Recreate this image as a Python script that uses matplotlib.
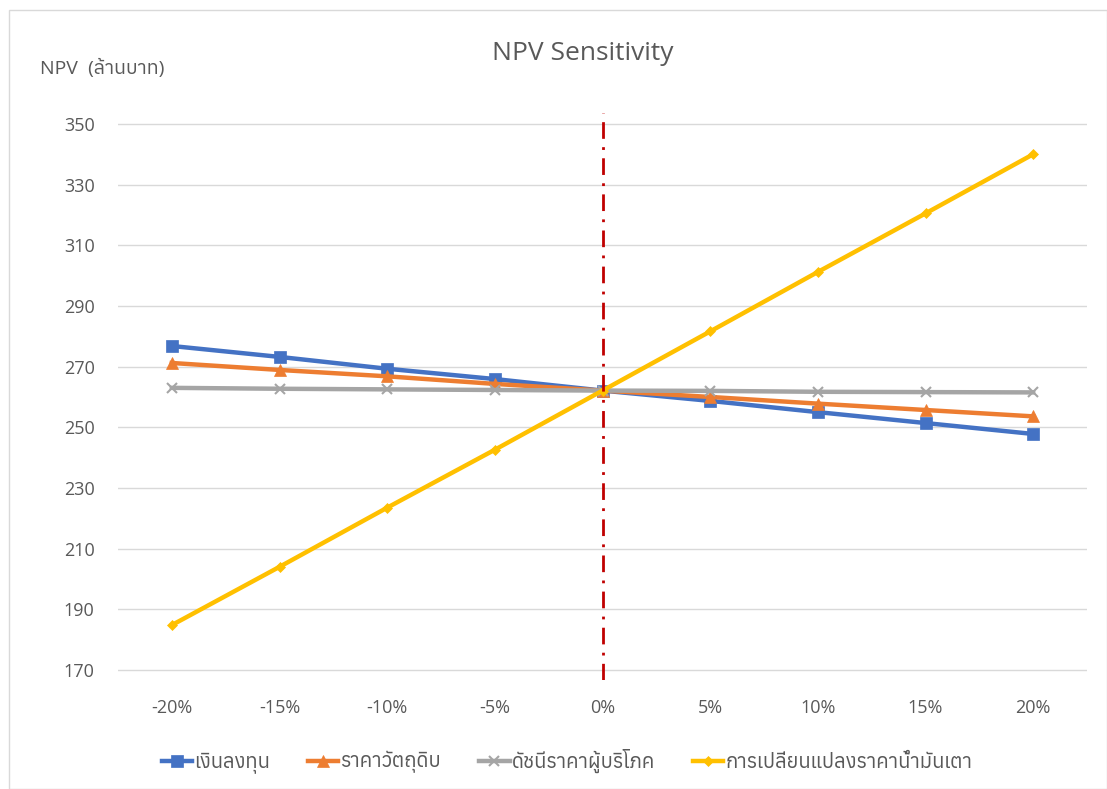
import matplotlib
matplotlib.use("Agg")
import matplotlib.pyplot as plt
from matplotlib import font_manager
from matplotlib.ft2font import FT2Font
from matplotlib.patches import Rectangle

CHANGES = ["-20%", "-15%", "-10%", "-5%", "0%", "5%", "10%", "15%", "20%"]
INVESTMENT = [276.8, 273.2, 269.3, 265.9, 262.1, 258.7, 255.0, 251.4, 247.8]
RAW_MATERIAL = [271.2, 268.9, 266.8, 264.3, 262.1, 260.0, 257.8, 255.7, 253.6]
CPI = [263.0, 262.7, 262.5, 262.3, 262.1, 262.0, 261.7, 261.6, 261.5]
FUEL_PRICE = [184.8, 204.0, 223.5, 242.6, 262.1, 281.6, 301.2, 320.5, 340.0]

SERIES = [
    ("เงินลงทุน", INVESTMENT, "#4472C4", "s", 8),
    ("ราคาวัตถุดิบ", RAW_MATERIAL, "#ED7D31", "^", 8),
    ("ดัชนีราคาผู้บริโภค", CPI, "#A5A5A5", "x", 7),
    ("การเปลี่ยนแปลงราคาน้ำมันเตา", FUEL_PRICE, "#FFC000", "D", 5),
]

TEXT_COLOR = "#595959"


def find_thai_font():
    found = []
    for f in font_manager.fontManager.ttflist:
        try:
            cmap = FT2Font(f.fname).get_charmap()
        except Exception:
            continue
        if 0x0E01 in cmap and 0x0E19 in cmap:
            found.append(f.name)
    return found


thai = find_thai_font()
families = (["Open Sans"] + sorted(set(thai)) + ["DejaVu Sans"])
plt.rcParams["font.family"] = families

fig = plt.figure(figsize=(11.07, 7.89), dpi=100)
ax = fig.add_axes([118 / 1107, 1 - 680 / 789, (1087 - 118) / 1107, (680 - 113) / 789])

x = list(range(len(CHANGES)))
for label, vals, color, marker, ms in SERIES:
    ax.plot(x, vals, color=color, linewidth=3.2, marker=marker, markersize=ms,
            markeredgewidth=1.5 if marker == "x" else 0.5, label=label, zorder=3)

ax.set_ylim(166.7, 353.6)
ax.set_xlim(-0.5, len(CHANGES) - 0.5)
ax.vlines(CHANGES.index("0%"), *ax.get_ylim(), colors="#C00000",
          linestyles=(0, (6, 3, 1, 3)), linewidth=2, zorder=4)

ax.set_yticks(range(170, 351, 20))
ax.set_xticks(x)
ax.set_xticklabels(CHANGES)
ax.tick_params(axis="both", length=0, labelsize=13, labelcolor=TEXT_COLOR)
ax.tick_params(axis="y", pad=39)
for lbl in ax.get_yticklabels():
    lbl.set_horizontalalignment("left")
ax.tick_params(axis="x", pad=14)
ax.grid(axis="y", color="#D9D9D9", linewidth=1)
ax.set_axisbelow(True)
for s in ax.spines.values():
    s.set_visible(False)

fig.text(583 / 1107, 1 - 54 / 789, "NPV Sensitivity", ha="center", va="center",
         fontsize=19, color=TEXT_COLOR)
fig.text(40 / 1107, 1 - 68 / 789, "NPV  (ล้านบาท)", ha="left", va="center",
         fontsize=14, color=TEXT_COLOR)

fig.legend(loc="center", bbox_to_anchor=(567 / 1107, 1 - 761 / 789), ncol=4,
           frameon=False, fontsize=14.5, labelcolor=TEXT_COLOR, handlelength=1.5,
           handletextpad=0.1, columnspacing=1.9)

fig.patches.append(Rectangle((9 / 1107, 0), 1 - 9 / 1107, 1 - 10 / 789,
                             transform=fig.transFigure, fill=False,
                             edgecolor="#D9D9D9", linewidth=1))

fig.savefig("out.png", dpi=100)
